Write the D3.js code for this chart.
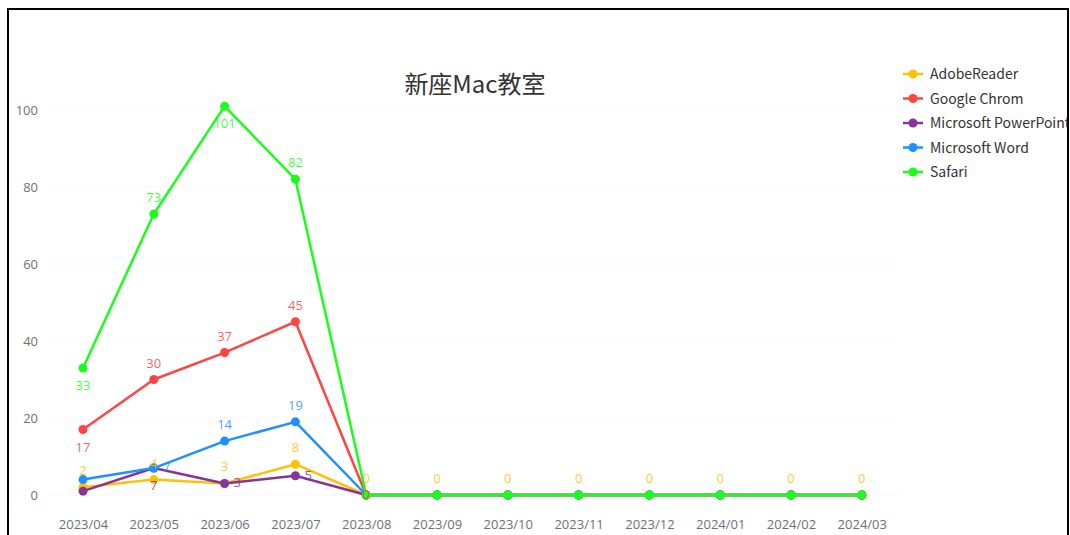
<!DOCTYPE html>
<html>
<head>
<meta charset="utf-8">
<script src="https://cdn.jsdelivr.net/npm/d3@7"></script>
<style>
  html, body { margin: 0; padding: 0; background: #fff; }
  svg { display: block; }
</style>
</head>
<body>
<script>
'use strict';

// chart data
const months = ["2023/04", "2023/05", "2023/06", "2023/07", "2023/08", "2023/09",
  "2023/10", "2023/11", "2023/12", "2024/01", "2024/02", "2024/03"];
const seriesNames = ["AdobeReader", "Google Chrom", "Microsoft PowerPoint", "Microsoft Word", "Safari"];
const adobeReader = [2, 4, 3, 8, 0, 0, 0, 0, 0, 0, 0, 0];
const googleChrom = [17, 30, 37, 45, 0, 0, 0, 0, 0, 0, 0, 0];
const powerPoint = [1, 7, 3, 5, 0, 0, 0, 0, 0, 0, 0, 0];
const msWord = [4, 7, 14, 19, 0, 0, 0, 0, 0, 0, 0, 0];
const safari = [33, 73, 101, 82, 0, 0, 0, 0, 0, 0, 0, 0];
const yTicks = [0, 20, 40, 60, 80, 100];

// styling (not data)
const colors = ["#ffc107", "#ff4444", "#883399", "#1e90ff", "#1aff1a"];
// where each point label sits: t=top, b=bottom, r=right, i=on the point, ''=hidden
const labelPos = [
  ["t", "t", "t", "t", "t", "t", "t", "t", "t", "t", "t", "t"],
  ["b", "t", "t", "t", "i", "", "", "", "", "", "", ""],
  ["", "b", "r", "r", "", "", "", "", "", "", "", ""],
  ["", "r", "t", "t", "", "", "", "", "", "", "", ""],
  ["b", "t", "b", "t", "", "", "", "", "", "", "", ""]
];

const allSeries = [adobeReader, googleChrom, powerPoint, msWord, safari];
const font = "'Noto Sans CJK SC', 'Noto Sans', sans-serif";
const numFont = "'Open Sans', 'Noto Sans', sans-serif";

const svg = d3.select("body").append("svg")
  .attr("width", 1070)
  .attr("height", 535);

// frame around the screenshot
svg.append("path")
  .attr("d", "M8,535 V9 H1068 V535")
  .attr("fill", "none")
  .attr("stroke", "#000")
  .attr("stroke-width", 2);

const x = d3.scalePoint()
  .domain(months)
  .range([47.6, 897.2])
  .padding(0.5);

const y = d3.scaleLinear()
  .domain([0, 100])
  .range([495, 110]);

// grid lines
svg.append("g")
  .selectAll("line")
  .data(yTicks)
  .join("line")
  .attr("x1", 47.6)
  .attr("x2", 897.2)
  .attr("y1", d => y(d))
  .attr("y2", d => y(d))
  .attr("stroke", "#e6e6e6")
  .attr("stroke-dasharray", "1,3");

// y axis labels
const yAxis = d3.axisLeft(y).tickValues(yTicks).tickSize(0).tickPadding(0);
svg.append("g")
  .attr("transform", "translate(38,0)")
  .call(yAxis)
  .call(g => g.select(".domain").remove())
  .call(g => g.selectAll("text")
    .attr("fill", "#6e7079")
    .attr("font-family", numFont)
    .attr("font-size", 13));

// x axis labels
const xAxis = d3.axisBottom(x).tickSize(0).tickPadding(0);
svg.append("g")
  .attr("transform", "translate(0,520)")
  .call(xAxis)
  .call(g => g.select(".domain").remove())
  .call(g => g.selectAll("text")
    .attr("fill", "#6e7079")
    .attr("font-family", numFont)
    .attr("font-size", 13));

// title
svg.append("text")
  .attr("x", 475)
  .attr("y", 93)
  .attr("text-anchor", "middle")
  .attr("fill", "#333")
  .style("font-family", font)
  .style("font-size", "24px")
  .text("新座Mac教室");

const line = d3.line()
  .x((d, i) => x(months[i]))
  .y(d => y(d));

// lines and dots
allSeries.forEach((vals, s) => {
  const g = svg.append("g");
  g.append("path")
    .datum(vals)
    .attr("fill", "none")
    .attr("stroke", colors[s])
    .attr("stroke-width", 2.5)
    .attr("stroke-linejoin", "round")
    .attr("d", line);
  g.selectAll("circle")
    .data(vals)
    .join("circle")
    .attr("cx", (d, i) => x(months[i]))
    .attr("cy", d => y(d))
    .attr("r", 4.5)
    .attr("fill", colors[s]);
});

// point labels
allSeries.forEach((vals, s) => {
  svg.append("g")
    .selectAll("text")
    .data(vals.map((v, i) => ({ v: v, i: i, p: labelPos[s][i] })).filter(d => d.p))
    .join("text")
    .attr("x", d => x(months[d.i]) + (d.p === "r" ? 9 : 0))
    .attr("y", d => y(d.v) + ({ t: -12, b: 22, r: 4, i: 4 })[d.p])
    .attr("text-anchor", d => d.p === "r" ? "start" : "middle")
    .attr("fill", colors[s])
    .attr("fill-opacity", 0.85)
    .attr("font-family", numFont)
    .attr("font-size", 13)
    .text(d => d.v);
});

// legend
const legend = svg.append("g")
  .selectAll("g")
  .data(seriesNames)
  .join("g")
  .attr("transform", (d, i) => `translate(903,${74 + i * 24.5})`);
legend.append("line")
  .attr("x1", 0).attr("x2", 20)
  .attr("stroke", (d, i) => colors[i])
  .attr("stroke-width", 2.5);
legend.append("circle")
  .attr("cx", 10)
  .attr("r", 4.5)
  .attr("fill", (d, i) => colors[i]);
legend.append("text")
  .attr("x", 27)
  .attr("y", 5)
  .attr("fill", "#333")
  .style("font-family", font)
  .style("font-size", "14px")
  .text(d => d);

// redraw the right frame edge over the clipped legend text
svg.append("rect")
  .attr("x", 1068)
  .attr("y", 0)
  .attr("width", 2)
  .attr("height", 535)
  .attr("fill", "#fff");
svg.append("line")
  .attr("x1", 1068).attr("x2", 1068)
  .attr("y1", 8).attr("y2", 535)
  .attr("stroke", "#000")
  .attr("stroke-width", 2);
</script>
</body>
</html>
